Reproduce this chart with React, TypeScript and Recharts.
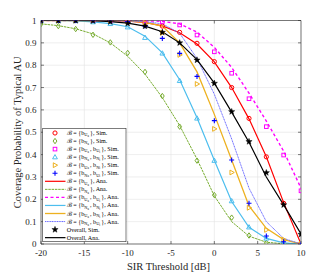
import React from 'react';
import { ComposedChart, Line, XAxis, YAxis, CartesianGrid } from 'recharts';

const SNR = [-20, -18, -16, -14, -12, -10, -8, -6, -4, -2, 0, 2, 4, 6, 8, 10];
const X_TICKS = [-20, -15, -10, -5, 0, 5, 10];
const Y_TICKS = [0, 0.1, 0.2, 0.3, 0.4, 0.5, 0.6, 0.7, 0.8, 0.9, 1];

const RED_SIM = [1, 1, 1, 1, 0.999, 0.997, 0.99, 0.975, 0.947, 0.898, 0.816, 0.7, 0.562, 0.39, 0.182, 0.002];
const RED_ANA = [1, 1, 1, 1, 0.999, 0.997, 0.991, 0.976, 0.945, 0.895, 0.815, 0.7, 0.56, 0.39, 0.185, 0];
const GREEN_SIM = [0.984, 0.975, 0.962, 0.936, 0.902, 0.855, 0.77, 0.662, 0.525, 0.373, 0.219, 0.118, 0.038, 0.005, 0.001, 0];
const GREEN_ANA = [0.985, 0.977, 0.963, 0.94, 0.9, 0.84, 0.76, 0.655, 0.53, 0.38, 0.215, 0.1, 0.035, 0.008, 0.001, 0];
const MAGENTA_SIM = [1, 1, 1, 1, 1, 1, 0.999, 0.995, 0.98, 0.935, 0.86, 0.764, 0.65, 0.525, 0.398, 0.238];
const MAGENTA_ANA = [1, 1, 1, 1, 1, 1, 0.999, 0.996, 0.985, 0.948, 0.88, 0.79, 0.675, 0.55, 0.415, 0.25];
const CYAN_SIM = [1, 0.999, 0.998, 0.993, 0.985, 0.97, 0.923, 0.853, 0.73, 0.562, 0.373, 0.192, 0.075, 0.025, 0.003, 0];
const CYAN_ANA = [1, 0.999, 0.998, 0.994, 0.986, 0.972, 0.93, 0.855, 0.735, 0.565, 0.375, 0.19, 0.075, 0.025, 0.005, 0];
const ORANGE_SIM = [1, 1, 1, 1, 0.999, 0.997, 0.99, 0.945, 0.846, 0.716, 0.515, 0.32, 0.162, 0.063, 0.02, 0];
const ORANGE_ANA = [1, 1, 1, 1, 0.999, 0.998, 0.992, 0.975, 0.9, 0.77, 0.58, 0.376, 0.17, 0.07, 0.02, 0];
const BLUE_SIM = [1, 1, 1, 1, 0.999, 0.995, 0.975, 0.92, 0.853, 0.75, 0.552, 0.376, 0.182, 0.036, 0.01, 0];
const BLUE_ANA = [1, 1, 1, 1, 0.999, 0.998, 0.995, 0.985, 0.943, 0.83, 0.67, 0.47, 0.25, 0.1, 0.025, 0];
const OVERALL_SIM = [1, 1, 1, 0.999, 0.995, 0.987, 0.975, 0.947, 0.9, 0.823, 0.719, 0.592, 0.458, 0.319, 0.175, 0.043];
const OVERALL_ANA = [1, 1, 1, 0.999, 0.995, 0.988, 0.975, 0.95, 0.9, 0.825, 0.72, 0.59, 0.455, 0.3, 0.175, 0.045];

// legend set definitions: each element [main subscript, sub-subscript]
const SET_LABELS: string[][][] = [
  [['U', 'a']],
  [['N', 'a']],
  [['U', 'a'], ['U', 'i']],
  [['N', 'a'], ['N', 'i']],
  [['U', 'a'], ['N', 'i']],
  [['N', 'a'], ['U', 'i']],
];

type Kind = 'circle' | 'diamond' | 'square' | 'triUp' | 'triRight' | 'plus' | 'star';

const SERIES = [
  { id: 'red', color: '#ff0000', kind: 'circle' as Kind, sim: RED_SIM, ana: RED_ANA, dash: undefined, width: 1.2, anaColor: '#ff0000' },
  { id: 'green', color: '#77ac30', kind: 'diamond' as Kind, sim: GREEN_SIM, ana: GREEN_ANA, dash: '2.5 0.8', width: 1, anaColor: '#77ac30' },
  { id: 'magenta', color: '#ff00ff', kind: 'square' as Kind, sim: MAGENTA_SIM, ana: MAGENTA_ANA, dash: '3 2.5', width: 1.4, anaColor: '#ff00ff' },
  { id: 'cyan', color: '#4dbeee', kind: 'triUp' as Kind, sim: CYAN_SIM, ana: CYAN_ANA, dash: undefined, width: 1.2, anaColor: '#4dbeee' },
  { id: 'orange', color: '#edb120', kind: 'triRight' as Kind, sim: ORANGE_SIM, ana: ORANGE_ANA, dash: undefined, width: 1.3, anaColor: '#edb120' },
  { id: 'blue', color: '#0000ff', kind: 'plus' as Kind, sim: BLUE_SIM, ana: BLUE_ANA, dash: '1.2 0.5', width: 1, anaColor: '#6a6aff' },
];

const data = SNR.map((x, i) => {
  const row: Record<string, number> = { snr: x, overallSim: OVERALL_SIM[i], overallAna: OVERALL_ANA[i] };
  SERIES.forEach((s) => {
    row[s.id + 'Sim'] = s.sim[i];
    row[s.id + 'Ana'] = s.ana[i];
  });
  return row;
});

function Marker({ kind, cx, cy, color }: { kind: Kind; cx: number; cy: number; color: string }) {
  if (cx == null || cy == null || isNaN(cx) || isNaN(cy)) return <g />;
  switch (kind) {
    case 'circle':
      return <circle cx={cx} cy={cy} r={2.1} fill="none" stroke={color} strokeWidth={1} />;
    case 'diamond':
      return <path d={`M${cx},${cy - 2.7}L${cx + 1.9},${cy}L${cx},${cy + 2.7}L${cx - 1.9},${cy}Z`} fill="none" stroke={color} strokeWidth={1} />;
    case 'square':
      return <rect x={cx - 1.8} y={cy - 1.8} width={3.6} height={3.6} fill="none" stroke={color} strokeWidth={1} />;
    case 'triUp':
      return <path d={`M${cx},${cy - 2.6}L${cx + 2.4},${cy + 1.7}L${cx - 2.4},${cy + 1.7}Z`} fill="none" stroke={color} strokeWidth={1} />;
    case 'triRight':
      return <path d={`M${cx + 2.6},${cy}L${cx - 1.7},${cy - 2.4}L${cx - 1.7},${cy + 2.4}Z`} fill="none" stroke={color} strokeWidth={1} />;
    case 'plus':
      return <path d={`M${cx - 2.5},${cy}H${cx + 2.5}M${cx},${cy - 2.5}V${cy + 2.5}`} fill="none" stroke={color} strokeWidth={1.1} />;
    case 'star': {
      const pts: string[] = [];
      for (let k = 0; k < 10; k++) {
        const r = k % 2 === 0 ? 3.3 : 1.4;
        const a = -Math.PI / 2 + (k * Math.PI) / 5;
        pts.push(`${cx + r * Math.cos(a)},${cy + r * Math.sin(a)}`);
      }
      return <polygon points={pts.join(' ')} fill="#000" stroke="#000" strokeWidth={0.4} />;
    }
  }
  return <g />;
}

const makeDot = (kind: Kind, color: string) => (props: any) => (
  <Marker key={`m-${kind}-${props.index}`} kind={kind} cx={props.cx} cy={props.cy} color={color} />
);

const SERIF = '"Liberation Serif", "Times New Roman", serif';

function YLabel(props: any) {
  const vb = props.viewBox || { x: 0, y: 12.5, height: 223.5 };
  const cx = 9.5;
  const cy = vb.y + vb.height / 2;
  return (
    <text x={cx} y={cy} transform={`rotate(-90 ${cx} ${cy})`} textAnchor="middle" dominantBaseline="central" fontFamily={SERIF} fontSize={10.5} fill="#262626">
      Coverage Probability of Typical AU
    </text>
  );
}

function XLabel() {
  return (
    <text x={160.5} y={262} textAnchor="middle" fontFamily={SERIF} fontSize={10.5} fill="#262626">
      SIR Threshold [dB]
    </text>
  );
}

const LEG_FONT = 6.1;

function SetText({ x, y, items, suffix }: { x: number; y: number; items: string[][]; suffix: string }) {
  const parts: React.ReactNode[] = [];
  parts.push(<tspan key="h">{'\u212C = {'}</tspan>);
  items.forEach((it, i) => {
    if (i > 0) parts.push(<tspan key={`c${i}`}>{', '}</tspan>);
    parts.push(<tspan key={`b${i}`}>b</tspan>);
    parts.push(<tspan key={`s${i}`} fontSize={4.3} dy={1.3}>{it[0]}</tspan>);
    parts.push(<tspan key={`ss${i}`} fontSize={3.2} dy={0.9}>{it[1]}</tspan>);
    parts.push(<tspan key={`r${i}`} dy={-2.2}>{'\u2009'}</tspan>);
  });
  parts.push(<tspan key="t">{'}, ' + suffix}</tspan>);
  return (
    <text x={x} y={y} fontFamily={SERIF} fontSize={LEG_FONT} fill="#000">
      {parts}
    </text>
  );
}

function LegendBox() {
  const bx = 34.7;
  const by = 120.3;
  const bw = 83.3;
  const bh = 113.4;
  const rowY = (i: number) => 125 + i * 8.05;
  const mx = 47;
  const lx1 = 37;
  const lx2 = 57.5;
  const tx = 58.8;
  const rows: React.ReactNode[] = [];
  SERIES.forEach((s, i) => {
    const y = rowY(i);
    rows.push(
      <g key={`ls${i}`}>
        <Marker kind={s.kind} cx={mx} cy={y} color={s.color} />
        <SetText x={tx} y={y + 2} items={SET_LABELS[i]} suffix="Sim." />
      </g>
    );
  });
  SERIES.forEach((s, i) => {
    const y = rowY(i + 6);
    rows.push(
      <g key={`la${i}`}>
        <line x1={lx1} x2={lx2} y1={y} y2={y} stroke={s.anaColor} strokeWidth={s.width} strokeDasharray={s.dash} />
        <SetText x={tx} y={y + 2} items={SET_LABELS[i]} suffix="Ana." />
      </g>
    );
  });
  rows.push(
    <g key="os">
      <Marker kind="star" cx={mx} cy={rowY(12)} color="#000" />
      <text x={tx} y={rowY(12) + 2} fontFamily={SERIF} fontSize={LEG_FONT} fill="#000">Overall, Sim.</text>
    </g>
  );
  rows.push(
    <g key="oa">
      <line x1={lx1} x2={lx2} y1={rowY(13)} y2={rowY(13)} stroke="#000" strokeWidth={1.2} />
      <text x={tx} y={rowY(13) + 2} fontFamily={SERIF} fontSize={LEG_FONT} fill="#000">Overall, Ana.</text>
    </g>
  );
  return (
    <svg width={311} height={267} style={{ position: 'absolute', left: 0, top: 0, pointerEvents: 'none' }}>
      <rect x={bx} y={by} width={bw} height={bh} fill="#fff" stroke="#262626" strokeWidth={0.6} />
      {rows}
    </svg>
  );
}

export default function App() {
  const axisStroke = '#262626';
  const tickStyle = { fontFamily: SERIF, fontSize: 9, fill: '#262626' };
  return (
    <div style={{ position: 'relative', width: 311, height: 267 }}>
      <ComposedChart width={311} height={267} data={data} margin={{ top: 11.5, right: 17, left: 0, bottom: 0 }}>
        <CartesianGrid stroke="#e3e3e3" strokeWidth={0.6} />
        <XAxis
          dataKey="snr"
          type="number"
          domain={[-20, 10]}
          ticks={X_TICKS}
          height={31}
          tickSize={-3}
          tickMargin={8.5}
          tick={tickStyle}
          stroke={axisStroke}
          strokeWidth={0.6}
          interval={0}
          allowDataOverflow
          label={<XLabel />}
        />
        <XAxis
          xAxisId="top"
          orientation="top"
          type="number"
          domain={[-20, 10]}
          ticks={X_TICKS}
          height={1}
          tickSize={-3}
          tick={() => <g />}
          stroke={axisStroke}
          strokeWidth={0.6}
          interval={0}
          allowDataOverflow
        />
        <YAxis
          type="number"
          domain={[0, 1]}
          ticks={Y_TICKS}
          width={33}
          tickSize={-3}
          tickMargin={7.5}
          tick={tickStyle}
          stroke={axisStroke}
          strokeWidth={0.6}
          interval={0}
          allowDataOverflow
          label={<YLabel />}
        />
        <YAxis
          yAxisId="right"
          orientation="right"
          type="number"
          domain={[0, 1]}
          ticks={Y_TICKS}
          width={1}
          tickSize={-3}
          tick={() => <g />}
          stroke={axisStroke}
          strokeWidth={0.6}
          interval={0}
          allowDataOverflow
        />
        {SERIES.map((s) => (
          <Line
            key={s.id + 'Ana'}
            dataKey={s.id + 'Ana'}
            stroke={s.anaColor}
            strokeWidth={s.width}
            strokeDasharray={s.dash}
            dot={false}
            activeDot={false}
            isAnimationActive={false}
            type="linear"
          />
        ))}
        <Line dataKey="overallAna" stroke="#000" strokeWidth={1.2} dot={false} activeDot={false} isAnimationActive={false} type="linear" />
        {SERIES.map((s) => (
          <Line
            key={s.id + 'Sim'}
            dataKey={s.id + 'Sim'}
            stroke="none"
            dot={makeDot(s.kind, s.color)}
            activeDot={false}
            isAnimationActive={false}
          />
        ))}
        <Line dataKey="overallSim" stroke="none" dot={makeDot('star', '#000')} activeDot={false} isAnimationActive={false} />
      </ComposedChart>
      <LegendBox />
    </div>
  );
}
